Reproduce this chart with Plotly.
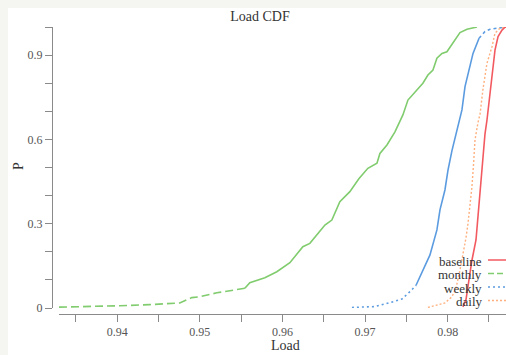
import plotly.graph_objects as go

# ---- data ----
monthly_x = [0.93295, 0.93667, 0.94030, 0.94394, 0.94757, 0.94902, 0.94999, 0.95205,
             0.95545, 0.95605, 0.95787, 0.95932, 0.96090, 0.96150, 0.96247, 0.96332,
             0.96429, 0.96514, 0.96598, 0.96695, 0.96816, 0.96925, 0.97034, 0.97144,
             0.97180, 0.97265, 0.97362, 0.97458, 0.97519, 0.97628, 0.97700, 0.97761,
             0.97822, 0.97870, 0.97931, 0.97991, 0.98064, 0.98149, 0.98234, 0.98355]
monthly_p = [0.003, 0.005, 0.008, 0.012, 0.018, 0.037, 0.040, 0.054,
             0.070, 0.090, 0.108, 0.129, 0.161, 0.183, 0.218, 0.230,
             0.266, 0.295, 0.313, 0.378, 0.414, 0.460, 0.497, 0.515,
             0.550, 0.580, 0.627, 0.687, 0.740, 0.776, 0.800, 0.829,
             0.847, 0.889, 0.906, 0.912, 0.942, 0.980, 0.992, 1.000]

weekly_x = [0.96841, 0.97119, 0.97301, 0.97446, 0.97543, 0.97616, 0.97700, 0.97786,
            0.97870, 0.97907, 0.97967, 0.98004, 0.98052, 0.98101, 0.98149, 0.98173,
            0.98210, 0.98270, 0.98307, 0.98380, 0.98452, 0.98513, 0.98694]
weekly_p = [0.002, 0.005, 0.019, 0.032, 0.058, 0.080, 0.135, 0.189,
            0.278, 0.349, 0.420, 0.491, 0.560, 0.620, 0.680, 0.705,
            0.788, 0.859, 0.906, 0.960, 0.984, 0.992, 1.000]

daily_x = [0.97761, 0.97883, 0.97967, 0.98052, 0.98101, 0.98149, 0.98185, 0.98222,
           0.98246, 0.98294, 0.98313, 0.98331, 0.98367, 0.98392, 0.98428, 0.98476,
           0.98537, 0.98573, 0.98634, 0.98694]
daily_p = [0.002, 0.011, 0.018, 0.040, 0.070, 0.135, 0.190, 0.250,
           0.300, 0.432, 0.510, 0.598, 0.660, 0.690, 0.780, 0.871,
           0.930, 0.978, 0.996, 1.000]

baseline_x = [0.98185, 0.98222, 0.98258, 0.98294, 0.98343, 0.98367, 0.98392, 0.98428,
              0.98452, 0.98476, 0.98513, 0.98537, 0.98573, 0.98610, 0.98658, 0.98694,
              0.98743]
baseline_p = [0.004, 0.030, 0.100, 0.170, 0.242, 0.330, 0.408, 0.550,
              0.620, 0.669, 0.770, 0.811, 0.918, 0.966, 0.989, 0.999,
              1.000]

series_names = ["baseline", "monthly", "weekly", "daily"]
x_tickvals = [0.935, 0.94, 0.945, 0.95, 0.955, 0.96, 0.965, 0.97, 0.975, 0.98, 0.985]
x_ticktext = ["", "0.94", "", "0.95", "", "0.96", "", "0.97", "", "0.98", ""]
y_tickvals = [0, 0.1, 0.2, 0.3, 0.4, 0.5, 0.6, 0.7, 0.8, 0.9, 1.0]
y_ticktext = ["0", "", "", "0.3", "", "", "0.6", "", "", "0.9", ""]

# ---- styling ----
W, H = 506, 355
FONT = "Liberation Serif, Times New Roman, serif"
C_BASE = "#f25a60"
C_MON = "#80cc6e"
C_WEEK = "#5b9be0"
C_DAY = "#ffb07e"
AXIS_C = "#8a8a8a"

def px_x(p):
    return p / W

def px_y(p):
    return 1 - p / H

fig = go.Figure()

# monthly: dashed in the flat tail, solid in the steep part
fig.add_trace(go.Scatter(x=monthly_x[:9], y=monthly_p[:9], mode="lines",
                         line=dict(color=C_MON, width=1.6, dash="8px,4px")))
fig.add_trace(go.Scatter(x=monthly_x[8:], y=monthly_p[8:], mode="lines",
                         line=dict(color=C_MON, width=1.6)))
# weekly: dotted in flat parts, solid in steep part
fig.add_trace(go.Scatter(x=weekly_x[:6], y=weekly_p[:6], mode="lines",
                         line=dict(color=C_WEEK, width=1.6, dash="2px,3px")))
fig.add_trace(go.Scatter(x=weekly_x[5:20], y=weekly_p[5:20], mode="lines",
                         line=dict(color=C_WEEK, width=1.6)))
fig.add_trace(go.Scatter(x=weekly_x[19:], y=weekly_p[19:], mode="lines",
                         line=dict(color=C_WEEK, width=1.6, dash="3px,3px")))
# daily: dotted
fig.add_trace(go.Scatter(x=daily_x, y=daily_p, mode="lines",
                         line=dict(color=C_DAY, width=1.4, dash="2px,2px")))
# baseline: solid
fig.add_trace(go.Scatter(x=baseline_x, y=baseline_p, mode="lines",
                         line=dict(color=C_BASE, width=1.6)))

x_lo = 0.93295
x_hi = 0.94 + (W - 117.5) / 8255.0

shapes = [
    dict(type="rect", xref="paper", yref="paper", layer="below",
         x0=px_x(8), x1=1.02, y0=-0.02, y1=px_y(8),
         fillcolor="white", line=dict(width=0)),
]
annotations = [
    dict(text="Load", xref="paper", yref="paper", x=px_x(285), y=px_y(345),
         xanchor="center", yanchor="middle", showarrow=False,
         font=dict(family=FONT, size=14, color="#333")),
    dict(text="P", xref="paper", yref="paper", x=px_x(18), y=px_y(166),
         xanchor="center", yanchor="middle", showarrow=False, textangle=-90,
         font=dict(family=FONT, size=14, color="#333")),
]

leg_styles = [
    (C_BASE, "solid"), (C_MON, "6px,3px"), (C_WEEK, "2px,3px"), (C_DAY, "2px,2px"),
]
leg_y = [260, 273.5, 287, 300.5]
for name, (col, dash), yy in zip(series_names, leg_styles, leg_y):
    annotations.append(dict(text=name, xref="paper", yref="paper",
                            x=px_x(483), y=px_y(yy + 1), xanchor="right", yanchor="middle",
                            showarrow=False, borderpad=0,
                            font=dict(family=FONT, size=13, color="#333")))
    shapes.append(dict(type="line", xref="paper", yref="paper",
                       x0=px_x(488), x1=1.05, y0=px_y(yy), y1=px_y(yy),
                       line=dict(color=col, width=1.6, dash=dash)))

fig.update_layout(
    width=W, height=H,
    margin=dict(l=0, r=0, t=0, b=0),
    paper_bgcolor="#f5f5f1",
    plot_bgcolor="rgba(0,0,0,0)",
    showlegend=False,
    font=dict(family=FONT, color="#555"),
    title=dict(text="Load CDF", xref="paper", yref="container", automargin=False,
               x=px_x(260), xanchor="center", y=px_y(16), yanchor="middle",
               font=dict(family=FONT, size=14, color="#333")),
    xaxis=dict(domain=[px_x(59), 1.0], range=[x_lo, x_hi],
               anchor="free", position=px_y(314), automargin=False,
               showgrid=False, zeroline=False,
               showline=True, linecolor=AXIS_C, linewidth=1,
               ticks="outside", ticklen=7, tickcolor=AXIS_C, tickwidth=1,
               tickvals=x_tickvals, ticktext=x_ticktext,
               tickfont=dict(family=FONT, size=12, color="#555")),
    yaxis=dict(domain=[px_y(308), px_y(27)], range=[0, 1.0],
               anchor="free", position=px_x(52), automargin=False,
               showgrid=False, zeroline=False,
               showline=True, linecolor=AXIS_C, linewidth=1,
               ticks="outside", ticklen=7, tickcolor=AXIS_C, tickwidth=1,
               tickvals=y_tickvals, ticktext=y_ticktext,
               tickfont=dict(family=FONT, size=12, color="#555")),
    shapes=shapes,
    annotations=annotations,
)

fig.write_html("out.html")
